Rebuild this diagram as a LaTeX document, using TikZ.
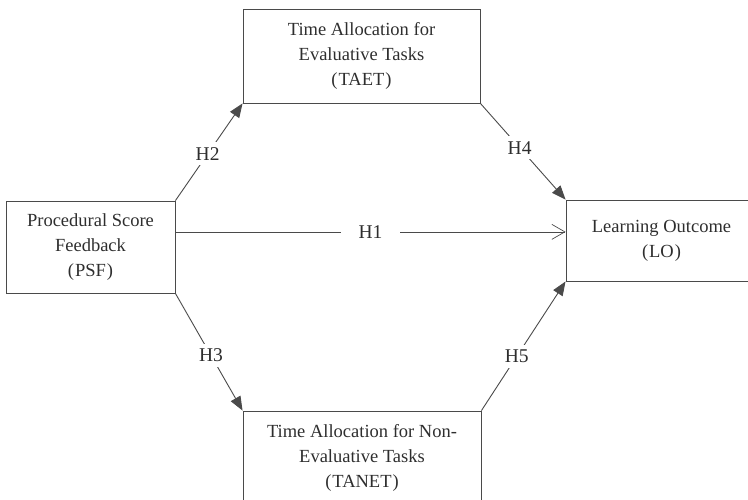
\documentclass[tikz,border=0pt]{standalone}
\usepackage{fontspec}
\setmainfont{Liberation Serif}
\usepackage{xcolor}
\usepackage{tikz}
\usetikzlibrary{calc,arrows.meta}
\definecolor{ink}{HTML}{2E2E2E}
\definecolor{edge}{HTML}{4A4A4A}
\tikzset{
  box/.style={draw=edge, line width=0.9pt, rectangle, align=center, text=ink,
    font=\fontsize{18.5}{25}\selectfont, inner sep=0pt},
  link/.style={draw=edge, line width=0.9pt, -{Triangle[length=14pt,width=11pt]}},
  open/.style={draw=edge, line width=0.7pt, -{Straight Barb[length=13pt,width=15pt]}},
  hyp/.style={fill=white, text=ink, font=\fontsize{19.5}{22}\selectfont, inner sep=5pt},
}
\begin{document}
\begin{tikzpicture}[x=1pt,y=-1pt]
  \useasboundingbox (0,0) rectangle (748,499);
  \clip (0,0) rectangle (748,499);
  \node[box, minimum width=169pt, minimum height=92pt] (psf) at (90.5,247)
    {Procedural Score\\Feedback\\(\kern1pt PSF\kern1pt)};
  \node[box, minimum width=237pt, minimum height=94pt] (taet) at (361.5,56)
    {Time Allocation for\\Evaluative Tasks\\(\kern1pt TAET\kern1pt)};
  \node[box, minimum width=238pt, minimum height=94pt] (tanet) at (362,458)
    {Time Allocation for Non-\\Evaluative Tasks\\(\kern1pt TANET\kern1pt)};
  \node[box, minimum width=191pt, minimum height=81pt] (lo) at (661.5,240.5)
    {Learning Outcome\\(\kern1pt LO\kern1pt)};
  \coordinate (h) at ($(psf.north east)!0.337!(psf.south east)$);
  % paths
  \draw[open] (h) -- node[hyp, inner xsep=18pt] {H1} (lo.west |- h);
  \draw[link] (psf.north east) -- node[hyp, pos=0.48] {H2} (taet.south west);
  \draw[link] (psf.south east) -- node[hyp, pos=0.53] {H3} (tanet.north west);
  \draw[link] (taet.south east) -- node[hyp, pos=0.46] {H4} (lo.north west);
  \draw[link] (tanet.north east) -- node[hyp, pos=0.42] {H5} (lo.south west);
\end{tikzpicture}
\end{document}
